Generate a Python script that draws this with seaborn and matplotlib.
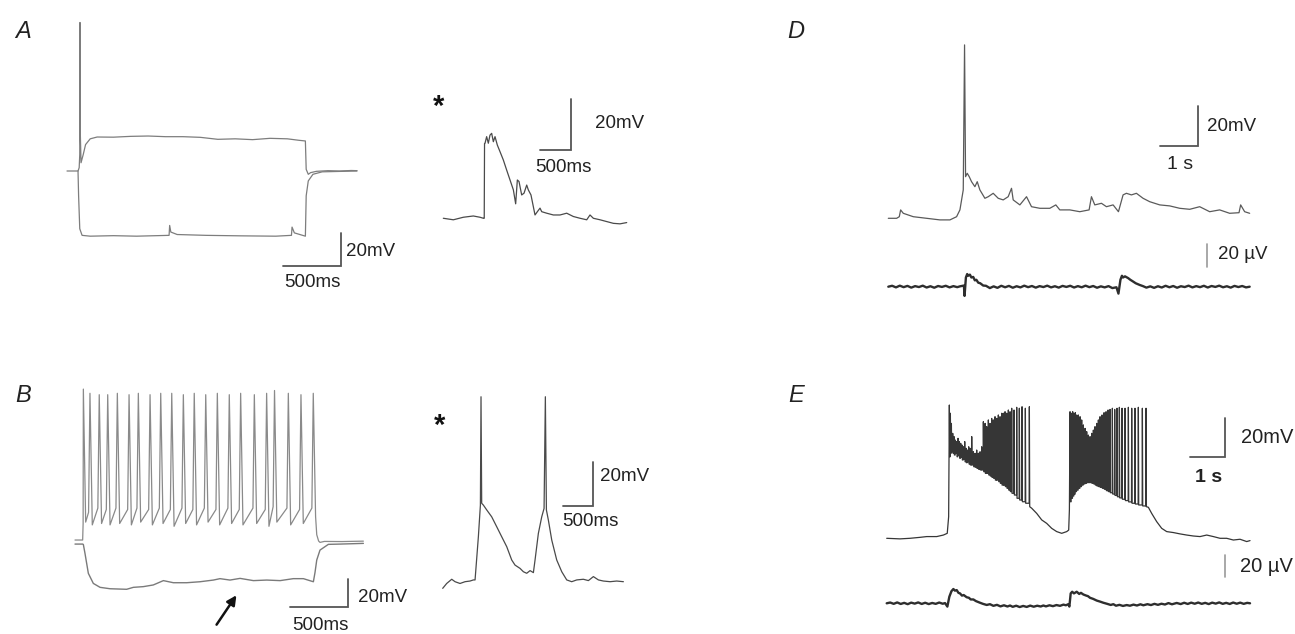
import matplotlib
matplotlib.use("Agg")
import matplotlib.pyplot as plt
import seaborn as sns

# ---------------- recorded traces ----------------
# A: current-step responses (time in ms, membrane potential in mV)
A_UP_MS = [0, 40, 95, 105, 110, 112, 114, 121, 140, 160, 200, 260, 400, 550, 700, 850, 1000,
           1150, 1300, 1450, 1600, 1750, 1900, 2000, 2055, 2062, 2080, 2100, 2150, 2250, 2350, 2450, 2500]
A_UP_MV = [-65, -65, -65, -63, -55, 25, -40, -60, -55, -49, -45.5, -44.4, -44.5, -44, -43.8, -44.2, -44.2,
           -44.6, -45.8, -45.5, -46, -45.2, -45.5, -46.4, -46.8, -64, -67, -66, -65.2, -64.8, -65, -64.7, -64.8]
A_LO_MS = [95, 100, 110, 130, 200, 400, 600, 880, 885, 895, 950, 1200, 1500, 1800, 1935, 1940, 1960,
           2055, 2062, 2080, 2120, 2200, 2500]
A_LO_MV = [-65, -80, -100, -104, -104.5, -104.2, -104.5, -104, -98, -102, -103.5, -104, -104.3, -104.5,
           -104, -99, -102.5, -104.5, -80, -71, -67, -65.5, -65]

# A, expanded event (*)
A_EV_MS = [5, 167, 328, 489, 597, 651, 665, 670, 678, 704, 731, 758, 785, 812, 839, 876, 919, 973, 1027,
           1081, 1135, 1172, 1199, 1226, 1269, 1307, 1350, 1376, 1419, 1484, 1522, 1565, 1592, 1672, 1780,
           1887, 1995, 2102, 2210, 2318, 2371, 2425, 2533, 2640, 2748, 2855, 2963]
A_EV_MV = [-65.5, -66.1, -65.1, -64.6, -65.1, -65.5, -65.5, -36, -35.9, -33.3, -35.9, -32.7, -32.0, -35.3,
           -33.3, -36.6, -39.2, -42.5, -46.5, -50.4, -54.3, -59.8, -50.4, -51.0, -56.3, -55.6, -52.4, -54.3,
           -56.3, -64.2, -62.9, -61.5, -62.9, -63.5, -64.2, -64.2, -63.5, -64.8, -65.5, -66.1, -64.2, -65.5,
           -66.1, -66.8, -67.5, -67.7, -67.2]

# B: repetitive firing during a depolarising step
B_SPIKE_MS = [72, 129, 209, 282, 365, 466, 546, 647, 739, 834, 934, 1028, 1127, 1227, 1330, 1428,
              1546, 1652, 1720, 1839, 1948, 2054]
B_SPIKE_PEAK = [44, 41, 40, 40, 41, 40, 41, 40, 41, 41, 40, 41, 40, 41, 40, 41, 40, 41, 43, 41, 40, 41]
B_SPIKE_TROUGH = [-51, -53, -52, -53, -52, -53, -51, -53, -52, -54, -52, -53, -51, -53, -52, -53, -52,
                  -54, -51, -53, -52, -47]
B_PRESPIKE = [-44, -41, -42, -41, -42, -41, -42, -41, -42, -41, -42, -41, -42, -41, -42, -41, -42,
              -40, -41, -42, -41]
B_UP_PRE_MS = [0, 66, 70]
B_UP_PRE_MV = [-63.8, -63.8, -52]
B_UP_POST_MS = [2084, 2100, 2112, 2150, 2300, 2486]
B_UP_POST_MV = [-60, -64.5, -65.5, -64.8, -64.9, -64.6]
B_LO_MS = [0, 66, 72, 86, 115, 158, 216, 302, 445, 503, 589, 675, 762, 848, 963, 1078, 1193, 1250,
           1336, 1423, 1538, 1653, 1768, 1882, 1969, 2055, 2069, 2084, 2112, 2184, 2285, 2486]
B_LO_MV = [-66.7, -66.7, -67, -73.3, -87.6, -94.8, -97.6, -98.6, -99.0, -97.6, -97.1, -95.9, -92.8,
           -94.3, -94.3, -93.6, -92.4, -91.4, -92.4, -91.2, -92.8, -92.4, -92.8, -91.4, -91.4, -93.6,
           -87, -78.1, -71.0, -66.9, -66.7, -66.2]

# B, expanded event (*)
B_EV_MS = [0, 65, 147, 201, 282, 364, 445, 500, 527, 581, 614, 624, 635, 662, 717, 798, 880, 961, 1043,
           1124, 1178, 1260, 1314, 1368, 1423, 1477, 1504, 1558, 1613, 1651, 1672, 1689, 1721, 1776, 1857,
           1939, 2020, 2101, 2183, 2291, 2373, 2454, 2536, 2617, 2726, 2834, 2943]
B_EV_MV = [-68.0, -65.8, -63.9, -65.0, -65.8, -65.0, -64.7, -64.2, -64.2, -44.7, -30.4, 18.5, -29.6,
           -30.4, -32.6, -35.7, -40.2, -44.7, -49.2, -55.2, -57.5, -59.0, -60.5, -61.2, -60.0, -60.9,
           -55.2, -43.2, -35.7, -31.9, 18.5, -32.6, -37.2, -46.2, -55.2, -60.5, -64.2, -65.0, -64.2,
           -63.9, -64.5, -62.7, -64.2, -64.7, -65.0, -64.7, -65.0]

# D: intracellular (mV) and field potential (uV), time in s
D_S = [0, 0.217, 0.287, 0.322, 0.391, 0.652, 1.0, 1.348, 1.609, 1.783, 1.870, 1.957, 1.991, 2.017,
       2.061, 2.113, 2.174, 2.261, 2.322, 2.391, 2.522, 2.609, 2.739, 2.870, 3.0, 3.130, 3.217, 3.261,
       3.435, 3.609, 3.739, 3.957, 4.217, 4.374, 4.478, 4.739, 5.0, 5.243, 5.304, 5.391, 5.565, 5.696,
       5.870, 6.009, 6.130, 6.217, 6.348, 6.478, 6.652, 6.826, 7.087, 7.348, 7.609, 7.870, 8.130,
       8.391, 8.652, 8.913, 9.157, 9.200, 9.304, 9.435]
D_MV = [-65, -65, -64.2, -60.8, -62.5, -64.2, -65, -65.8, -65.8, -64.2, -60.8, -50.8, 21.7, -44.2,
        -42.5, -44.2, -46.7, -49.2, -46.7, -50.8, -55, -54.2, -52.5, -55, -55.8, -54.2, -50, -55.8,
        -58.3, -54.2, -59.2, -60, -60, -58.3, -60.8, -60.8, -61.7, -60.8, -54.2, -58.3, -57.5, -59.2,
        -58.3, -61.7, -53.3, -52.5, -53.3, -52.5, -55, -56.7, -58.3, -58.8, -60, -60.5, -59.2, -61.7,
        -60.8, -62.5, -62.2, -58.3, -61.7, -62.5]
D_LFP_S = [0, 0.1, 0.2, 0.3, 0.4, 0.5, 0.6, 0.7, 0.8, 0.9, 1.0, 1.1, 1.2, 1.3, 1.4, 1.5, 1.6, 1.7, 1.8,
           1.87, 1.974, 1.991, 2.026, 2.06, 2.087, 2.13, 2.17, 2.217, 2.26, 2.30, 2.348, 2.40, 2.478,
           2.55, 2.652, 2.75, 2.85, 2.95, 3.05, 3.15, 3.25, 3.35, 3.45, 3.55, 3.65, 3.75, 3.85, 3.95,
           4.05, 4.15, 4.25, 4.35, 4.45, 4.55, 4.65, 4.75, 4.85, 4.95, 5.05, 5.15, 5.25, 5.35, 5.45,
           5.55, 5.65, 5.75, 5.85, 5.957, 6.009, 6.061, 6.10, 6.13, 6.18, 6.261, 6.32, 6.391, 6.46,
           6.565, 6.65, 6.739, 6.84, 6.94, 7.04, 7.14, 7.24, 7.34, 7.44, 7.54, 7.64, 7.74, 7.84, 7.94,
           8.04, 8.14, 8.24, 8.34, 8.44, 8.54, 8.64, 8.74, 8.84, 8.94, 9.04, 9.14, 9.24, 9.34, 9.435]
D_LFP_UV = [0, 0.8, -0.6, 0.9, -0.4, 0.7, -0.8, 0.5, -0.3, 0.9, -0.7, 0.4, -0.9, 0.6, -0.2, 0.8, -0.6,
            0.5, -0.4, 0.3, 1, -8, 8, 11, 9.5, 10.5, 8, 8.5, 5.5, 6, 3.5, 3, 1, 0.8, -1.2, 0.3, -1, 0.8,
            -0.5, 0.7, -0.9, 0.4, -0.6, 0.9, -0.4, 0.6, -0.8, 0.5, -0.3, 0.9, -0.6, 0.4, -0.8, 0.7,
            -0.2, 0.8, -0.7, 0.5, -0.5, 0.9, -0.4, 0.6, -0.9, 0.3, -0.6, 0.5, -1.2, -0.5, -6, 6, 9.5,
            8, 9, 7.5, 6, 4.5, 3, 1.5, 0.5, -0.8, 0.3, -1, 0.4, -0.7, 0.8, -0.5, 0.6, -0.9, 0.4, -0.3,
            0.9, -0.6, 0.5, -0.4, 0.8, -0.7, 0.6, -0.2, 0.9, -0.5, 0.4, -0.8, 0.7, -0.3, 0.6, -0.6, 0]

# E: two up-state bursts
E_PRE_S = [0, 0.38, 0.667, 0.95, 1.143, 1.43, 1.62, 1.73, 1.77]
E_PRE_MV = [-65, -65.3, -65, -64.5, -64.1, -64.1, -63.3, -62.4, -53.7]
E_B1_S = [1.790, 1.819, 1.848, 1.886, 1.924, 1.962, 2.0, 2.038, 2.076, 2.114, 2.152, 2.190, 2.229,
          2.267, 2.305, 2.343, 2.381, 2.429, 2.476, 2.524, 2.571, 2.619, 2.667, 2.714, 2.762, 2.810,
          2.857, 2.905, 2.952, 3.0, 3.048, 3.095, 3.143, 3.190, 3.238, 3.286, 3.333, 3.381, 3.429,
          3.476, 3.524, 3.571, 3.638, 3.714, 3.790, 3.867, 3.962, 4.076]
E_B1_PEAK = [4.6, 0.3, -5.0, -10.2, -11.9, -13.7, -14.5, -12.8, -14.5, -15.4, -16.3, -17.2, -14.5,
             -18.0, -18.9, -17.2, -18.0, -11.9, -19.8, -20.6, -18.9, -20.6, -19.8, -17.2, -4.1, -5.0,
             -6.7, -3.2, -5.0, -2.4, -3.2, -1.5, -2.4, -0.6, -1.5, 0.3, 0.3, 1.1, 0.3, 2.0, 1.1, 2.9,
             2.0, 3.4, 2.9, 3.7, 2.9, 3.7]
E_B1_TROUGH = [-22.4, -20.6, -19.8, -20.6, -21.5, -20.6, -22.4, -21.5, -23.2, -22.7, -24.1, -23.8,
               -25.0, -25.5, -25.0, -26.2, -26.7, -26.7, -27.6, -27.9, -28.5, -29.0, -29.3, -29.3,
               -30.2, -31.1, -31.1, -31.9, -32.5, -33.2, -33.7, -34.6, -34.6, -35.4, -36.3, -37.2,
               -37.2, -38.0, -38.9, -39.8, -40.6, -41.5, -42.4, -44.1, -45.0, -45.9, -46.7, -48.5]
E_POST1_S = [4.143, 4.286, 4.429, 4.571, 4.714, 4.857, 5.0, 5.143, 5.2, 5.22]
E_POST1_MV = [-49.3, -52.0, -55.4, -57.2, -59.8, -61.5, -62.4, -61.5, -60.7, -50]
E_B2_S = [5.238, 5.276, 5.314, 5.352, 5.390, 5.429, 5.476, 5.524, 5.571, 5.619, 5.667, 5.714, 5.762,
          5.810, 5.857, 5.905, 5.952, 6.0, 6.048, 6.095, 6.152, 6.210, 6.267, 6.324, 6.381, 6.448,
          6.514, 6.581, 6.648, 6.724, 6.810, 6.905, 7.0, 7.095, 7.190, 7.305, 7.410]
E_B2_PEAK = [1.1, 0.3, 1.1, 0.3, 0.6, -0.6, -0.6, -1.5, -3.2, -5.8, -7.6, -9.3, -11.1, -11.9, -10.2,
             -8.5, -6.7, -5.0, -3.2, -1.5, -0.6, 0.6, 1.1, 2.0, 2.3, 2.9, 2.3, 2.9, 3.4, 2.9, 2.9, 3.4,
             2.9, 2.9, 3.4, 2.9, 2.9]
E_B2_TROUGH = [-45.9, -44.1, -42.9, -41.9, -40.6, -39.8, -38.9, -38.0, -37.2, -36.6, -36.3, -35.9,
               -35.9, -35.9, -36.3, -36.6, -37.2, -37.7, -38.0, -38.4, -38.9, -39.4, -40.1, -40.6,
               -41.2, -41.9, -42.6, -43.3, -43.9, -44.6, -45.3, -46.0, -46.7, -47.1, -47.6, -48.1, -48.5]
E_POST2_S = [7.476, 7.571, 7.714, 7.857, 8.0, 8.190, 8.381, 8.571, 8.762, 8.952, 9.143, 9.333, 9.524,
             9.714, 9.905, 10.095, 10.286, 10.381]
E_POST2_MV = [-48.8, -52.0, -56.3, -59.8, -61.5, -62.0, -62.7, -63.3, -63.8, -64.1, -63.3, -64.1, -65.0,
              -65.0, -65.9, -65.5, -66.7, -66.2]
E_LFP_S = [0, 0.1, 0.2, 0.3, 0.4, 0.5, 0.6, 0.7, 0.8, 0.9, 1.0, 1.1, 1.2, 1.3, 1.4, 1.5, 1.6, 1.667,
           1.733, 1.79, 1.85, 1.905, 1.95, 2.0, 2.05, 2.095, 2.15, 2.2, 2.286, 2.35, 2.40, 2.476, 2.55,
           2.667, 2.75, 2.857, 2.95, 3.048, 3.15, 3.25, 3.35, 3.45, 3.524, 3.6, 3.7, 3.8, 3.9, 4.0,
           4.1, 4.2, 4.3, 4.4, 4.476, 4.55, 4.65, 4.75, 4.85, 4.952, 5.05, 5.12, 5.19, 5.219, 5.257,
           5.30, 5.35, 5.429, 5.5, 5.55, 5.619, 5.7, 5.75, 5.81, 5.9, 6.0, 6.1, 6.19, 6.3, 6.4, 6.476,
           6.55, 6.65, 6.75, 6.857, 6.95, 7.05, 7.15, 7.25, 7.333, 7.45, 7.55, 7.65, 7.75, 7.85, 7.95,
           8.05, 8.15, 8.286, 8.4, 8.5, 8.6, 8.7, 8.8, 8.9, 9.0, 9.1, 9.2, 9.3, 9.4, 9.5, 9.6, 9.7,
           9.8, 9.9, 10.0, 10.1, 10.2, 10.3, 10.381]
E_LFP_UV = [0, 0.7, -0.5, 0.8, -0.6, 0.4, -0.8, 0.6, -0.3, 0.8, -0.6, 0.5, -0.7, 0.3, -0.5, 0.7, -0.4,
            0.2, -3, 6, 11, 13, 11.5, 12, 9.5, 9, 7, 7.5, 5.5, 5, 3.5, 3.5, 2, 0.5, -0.5, -1.5, -0.8,
            -2.3, -1.4, -2.8, -1.8, -2.9, -2, -3.2, -2.2, -3.4, -2.4, -3.3, -2.1, -3.1, -2.2, -2.9,
            -2.0, -2.8, -1.8, -2.6, -1.6, -2.3, -1.2, -1.8, -0.8, -3, 9, 10.5, 9, 10.5, 8.5, 9.5, 8,
            7, 6.5, 5, 4, 2.5, 1.5, 0.5, -0.5, -1.5, -0.8, -2.2, -1.4, -2.4, -1.6, -2.2, -1.2, -2.0,
            -0.9, -1.8, -0.8, -1.6, -0.5, -1.4, -0.4, -1.1, 0.2, -0.9, 0.3, -0.7, 0.5, -0.6, 0.6,
            -0.4, 0.7, -0.5, 0.4, -0.7, 0.6, -0.3, 0.8, -0.5, 0.4, -0.6, 0.7, -0.4, 0.6, -0.5, 0.4, 0]

# ---------------- figure ----------------
W, H = 1295, 634
sns.set_style("white")
plt.rcParams["font.family"] = ["Liberation Sans", "DejaVu Sans"]
fig = plt.figure(figsize=(W / 100, H / 100), dpi=100)

TXT = "#222222"
BAR = "#555555"
LABEL_SIZE = 13.5


def trace_axes(box, anchor_px, anchor_val, px_per_x, px_per_y):
    """Axes spanning a pixel box, calibrated so anchor_val sits at anchor_px."""
    x0, y0, x1, y1 = box
    ax = fig.add_axes([x0 / W, 1 - y1 / H, (x1 - x0) / W, (y1 - y0) / H])
    ax.set_xlim(anchor_val[0] + (x0 - anchor_px[0]) / px_per_x,
                anchor_val[0] + (x1 - anchor_px[0]) / px_per_x)
    ax.set_ylim(anchor_val[1] - (y1 - anchor_px[1]) / px_per_y,
                anchor_val[1] - (y0 - anchor_px[1]) / px_per_y)
    ax.set_axis_off()
    return ax


def trace(ax, x, y, color, lw):
    sns.lineplot(x=x, y=y, ax=ax, color=color, linewidth=lw, sort=False, estimator=None)


def spike_train(times, peaks, troughs, fall, lead, ramp=None):
    t, v = [], []
    for i in range(len(times)):
        t += [times[i], times[i] + fall]
        v += [peaks[i], troughs[i]]
        if i + 1 < len(times):
            t.append(times[i + 1] - lead)
            v.append(troughs[i] if ramp is None else ramp[i])
    return t, v


def scale_bar(ax, corner, dx, dy):
    cx, cy = corner
    ax.plot([cx - dx, cx, cx], [cy, cy, cy + dy], color=BAR, lw=1.3, clip_on=False,
            solid_joinstyle="miter")


def letter(xp, yp, s):
    fig.text(xp / W, 1 - yp / H, s, ha="center", va="center", fontsize=17, style="italic", color=TXT)


# ---- A ----
axA = trace_axes((40, 0, 430, 320), (67, 171), (0, -65), 58 / 500, 33 / 20)
trace(axA, A_UP_MS, A_UP_MV, "#7d7d7d", 0.9)
trace(axA, A_LO_MS, A_LO_MV, "#7d7d7d", 0.9)
scale_bar(axA, (2362, -122.6), 500, 20)
axA.text(2405, -114, "20mV", ha="left", va="center", fontsize=LABEL_SIZE, color=TXT)
axA.text(2112, -132.3, "500ms", ha="center", va="center", fontsize=LABEL_SIZE, color=TXT)

axAi = trace_axes((425, 60, 700, 260), (443, 217), (0, -65), 31 / 500, 50.7 / 20)
trace(axAi, A_EV_MS, A_EV_MV, "#4a4a4a", 0.9)
scale_bar(axAi, (2065, -38.6), 500, 20)
axAi.text(2452, -28, "20mV", ha="left", va="center", fontsize=LABEL_SIZE, color=TXT)
axAi.text(1935, -45.3, "500ms", ha="center", va="center", fontsize=LABEL_SIZE, color=TXT)
axAi.text(-65, -21.7, "*", ha="center", va="center", fontsize=21, fontweight="bold", color="#111")

# ---- B ----
axB = trace_axes((40, 330, 430, 634), (75, 541.7), (0, -65), 58 / 500, 28 / 20)
st, sv = spike_train(B_SPIKE_MS, B_SPIKE_PEAK, B_SPIKE_TROUGH, 20, 12, B_PRESPIKE)
trace(axB, B_UP_PRE_MS + st + B_UP_POST_MS, B_UP_PRE_MV + sv + B_UP_POST_MV, "#8a8a8a", 0.9)
trace(axB, B_LO_MS, B_LO_MV, "#7a7a7a", 1.0)
scale_bar(axB, (2353, -111.6), 500, 20)
axB.text(2439, -105.2, "20mV", ha="left", va="center", fontsize=LABEL_SIZE, color=TXT)
axB.text(2112, -124.5, "500ms", ha="center", va="center", fontsize=LABEL_SIZE, color=TXT)
axB.annotate("", xy=(1405, -101.6), xytext=(1207, -125.9),
             arrowprops=dict(arrowstyle="-|>", color="#111", lw=1.8, mutation_scale=14),
             annotation_clip=False)

axBi = trace_axes((425, 330, 700, 634), (442.7, 581.7), (0, -65), 30.7 / 500, 44.3 / 20)
trace(axBi, B_EV_MS, B_EV_MV, "#4a4a4a", 0.9)
scale_bar(axBi, (2453, -30.8), 500, 20)
axBi.text(2562, -17.6, "20mV", ha="left", va="center", fontsize=LABEL_SIZE, color=TXT)
axBi.text(2400, -37.6, "500ms", ha="center", va="center", fontsize=LABEL_SIZE, color=TXT)
axBi.text(-44, 5.3, "*", ha="center", va="center", fontsize=21, fontweight="bold", color="#111")

# ---- D ----
axD = trace_axes((860, 0, 1295, 250), (888.3, 218.3), (0, -65), 38.3, 2.0)
trace(axD, D_S, D_MV, "#5a5a5a", 0.9)
scale_bar(axD, (8.094, -28.85), 1, 20)
axD.text(8.32, -19.2, "20mV", ha="left", va="center", fontsize=LABEL_SIZE, color=TXT)
axD.text(7.62, -38.35, "1 s", ha="center", va="center", fontsize=LABEL_SIZE + 0.5, color=TXT)

axDf = trace_axes((860, 225, 1295, 320), (888.3, 286.7), (0, 0), 38.3, 23 / 20)
trace(axDf, D_LFP_S, D_LFP_UV, "#2e2e2e", 1.7)
axDf.plot([8.33, 8.33], [17.1, 37.1], color="#999999", lw=1.2, clip_on=False)
axDf.text(8.6, 27.6, "20 µV", ha="left", va="center", fontsize=LABEL_SIZE, color=TXT)

# ---- E ----
axE = trace_axes((860, 370, 1295, 560), (886.7, 538.3), (0, -65), 35.0, 38.3 / 20)
b1t, b1v = spike_train(E_B1_S, E_B1_PEAK, E_B1_TROUGH, 0.010, 0.006)
b2t, b2v = spike_train(E_B2_S, E_B2_PEAK, E_B2_TROUGH, 0.010, 0.006)
trace(axE, E_PRE_S + b1t + E_POST1_S + b2t + E_POST2_S,
      E_PRE_MV + b1v + E_POST1_MV + b2v + E_POST2_MV, "#363636", 0.9)
scale_bar(axE, (9.666, -22.4), 1, 20)
axE.text(10.12, -12.6, "20mV", ha="left", va="center", fontsize=14.5, color=TXT)
axE.text(9.19, -33.5, "1 s", ha="center", va="center", fontsize=LABEL_SIZE + 0.5,
         fontweight="bold", color=TXT)

axEf = trace_axes((860, 545, 1295, 634), (886.7, 603.3), (0, 0), 35.0, 22 / 20)
trace(axEf, E_LFP_S, E_LFP_UV, "#2e2e2e", 1.7)
axEf.plot([9.666, 9.666], [23.9, 43.9], color="#999999", lw=1.2, clip_on=False)
axEf.text(10.1, 33.9, "20 µV", ha="left", va="center", fontsize=14.5, color=TXT)

letter(23, 32, "A")
letter(23, 396, "B")
letter(796, 32, "D")
letter(796, 396, "E")

fig.savefig("out.png", dpi=100, facecolor="white")
